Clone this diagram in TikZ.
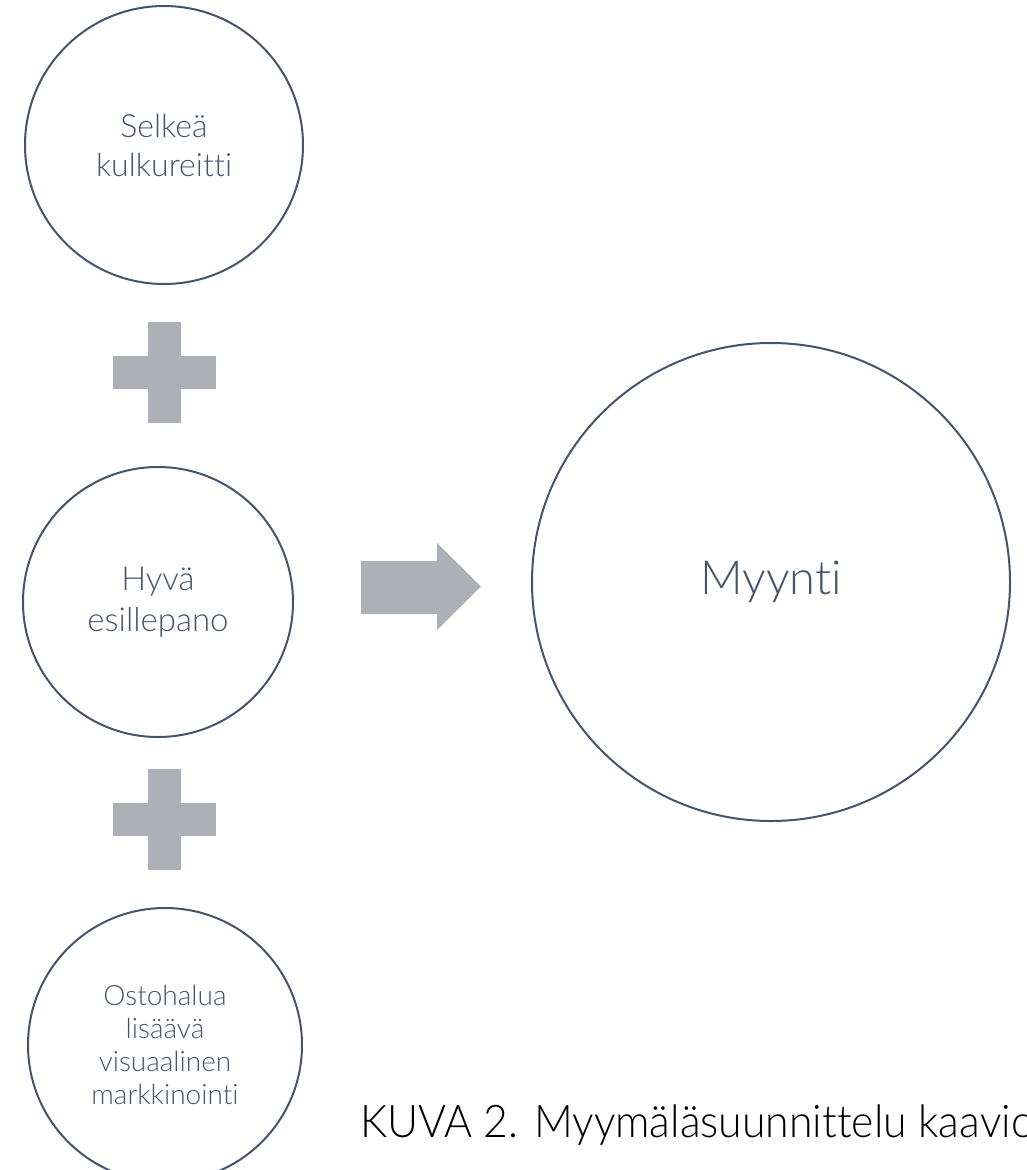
\documentclass[tikz,border=0pt]{standalone}
\usepackage{fontspec}
\setmainfont{Lato}[UprightFont=* Light, Ligatures=NoCommon]
\newfontfamily\capfont{Lato}[UprightFont=* Light, FakeStretch=0.95, Ligatures=NoCommon]
\definecolor{ringcol}{HTML}{44546A}
\definecolor{txtcol}{HTML}{44546A}
\definecolor{shapecol}{HTML}{ADB0B6}
\begin{document}
\begin{tikzpicture}[x=1pt,y=-1pt,
  ring/.style={circle, draw=ringcol, line width=2pt, inner sep=0pt, align=center, text=txtcol},
  blockshape/.style={fill=shapecol, draw=none}]
\useasboundingbox (0,0) rectangle (1026,1170);
\node[ring, minimum size=278pt, font=\fontsize{32}{39}\selectfont] (c1) at (164,145) {Selkeä\\kulkureitti};
\node[ring, minimum size=270pt, font=\fontsize{33}{41}\selectfont] (c2) at (158,602) {Hyvä\\esillepano};
\node[ring, minimum size=274pt, font=\fontsize{28}{33}\selectfont] (c3) at (165,1045) {Ostohalua\\lisäävä\\visuaalinen\\markkinointi};
\node[ring, minimum size=478pt, font=\fontsize{47}{56}\selectfont] (c4) at (771,582) {Myynti};
% plus signs
\fill[blockshape] (148,322) rectangle (181,423);
\fill[blockshape] (113,356) rectangle (216,389);
\fill[blockshape] (148,769) rectangle (181,870);
\fill[blockshape] (113,803) rectangle (216,836);
% block arrow
\fill[blockshape] (361,561) -- (437,561) -- (437,543) -- (481,586.5) -- (437,630) -- (437,614) -- (361,614) -- cycle;
% caption
\node[anchor=base west, inner sep=0pt, font=\capfont\fontsize{45}{54}\selectfont] (cap) at (360,1137) {KUVA 2. Myymäläsuunnittelu kaavio};
\end{tikzpicture}
\end{document}
